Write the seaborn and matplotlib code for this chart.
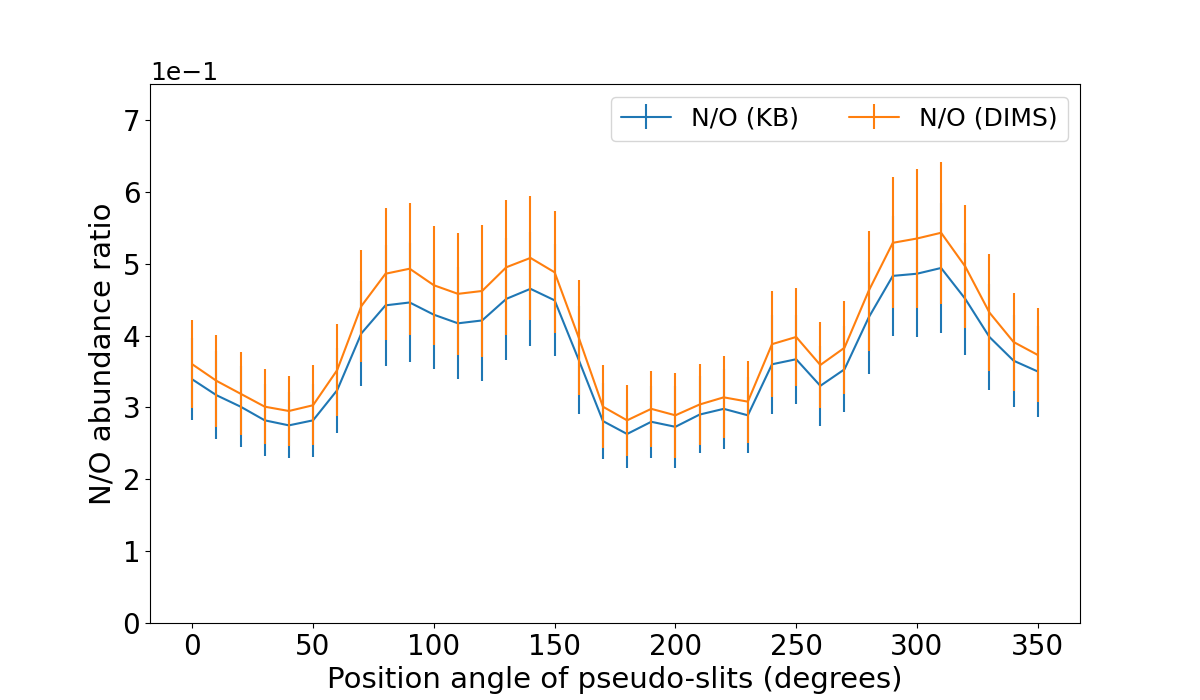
import numpy as np
import pandas as pd
import matplotlib
matplotlib.use("Agg")
import matplotlib.pyplot as plt
import seaborn as sns
from matplotlib.container import ErrorbarContainer

# position angle of the pseudo-slits (degrees)
angles = list(range(0, 360, 10))

# N/O abundance ratio, KB method
no_kb = [0.339, 0.317, 0.301, 0.282, 0.275, 0.282, 0.324, 0.403, 0.442, 0.446,
         0.429, 0.417, 0.421, 0.451, 0.465, 0.449, 0.366, 0.281, 0.263, 0.280,
         0.273, 0.290, 0.298, 0.289, 0.360, 0.367, 0.330, 0.353, 0.425, 0.483,
         0.486, 0.494, 0.451, 0.398, 0.365, 0.350]
err_kb = [0.057, 0.061, 0.056, 0.050, 0.046, 0.051, 0.059, 0.073, 0.084, 0.083,
          0.076, 0.078, 0.084, 0.085, 0.079, 0.078, 0.075, 0.053, 0.047, 0.050,
          0.057, 0.054, 0.056, 0.053, 0.069, 0.062, 0.056, 0.060, 0.078, 0.083,
          0.088, 0.090, 0.078, 0.074, 0.064, 0.063]

# N/O abundance ratio, DIMS method
no_dims = [0.360, 0.337, 0.319, 0.301, 0.295, 0.303, 0.352, 0.441, 0.486, 0.493,
           0.470, 0.458, 0.462, 0.495, 0.508, 0.488, 0.397, 0.301, 0.282, 0.298,
           0.289, 0.304, 0.314, 0.308, 0.388, 0.398, 0.359, 0.383, 0.462, 0.529,
           0.535, 0.543, 0.496, 0.432, 0.391, 0.373]
err_dims = [0.061, 0.064, 0.058, 0.052, 0.049, 0.056, 0.064, 0.078, 0.092, 0.092,
            0.083, 0.085, 0.092, 0.094, 0.086, 0.085, 0.080, 0.058, 0.049, 0.053,
            0.059, 0.056, 0.057, 0.057, 0.074, 0.068, 0.060, 0.065, 0.084, 0.091,
            0.097, 0.099, 0.086, 0.081, 0.068, 0.066]

labels = ["N/O (KB)", "N/O (DIMS)"]

df = pd.DataFrame({
    "angle": angles * 2,
    "ratio": no_kb + no_dims,
    "err": err_kb + err_dims,
    "method": [labels[0]] * len(angles) + [labels[1]] * len(angles),
})

sns.set_style("ticks", {"axes.edgecolor": "black", "text.color": "black",
                        "axes.labelcolor": "black", "xtick.color": "black",
                        "ytick.color": "black"})
colors = sns.color_palette("tab10", 2)

fig, ax = plt.subplots(figsize=(12, 7), dpi=100)
sns.lineplot(data=df, x="angle", y="ratio", hue="method", palette=colors,
             linewidth=1.5, legend=False, ax=ax)

handles = []
for i, lab in enumerate(labels):
    sub = df[df["method"] == lab]
    eb = ax.errorbar(sub["angle"], sub["ratio"], yerr=sub["err"], fmt="none",
                     ecolor=colors[i], elinewidth=1.5)
    handles.append(ErrorbarContainer((ax.lines[i], eb.lines[1], eb.lines[2]),
                                     has_xerr=False, has_yerr=True, label=lab))

ax.set_ylim(0, 0.75)
ax.ticklabel_format(axis="y", style="sci", scilimits=(0, 0))
ax.yaxis.get_offset_text().set_fontsize(18)
ax.tick_params(labelsize=20, length=3.5, width=0.8)
ax.set_xlabel("Position angle of pseudo-slits (degrees)", fontsize=21)
ax.set_ylabel("N/O abundance ratio", fontsize=21)
ax.legend(handles=handles, labels=labels, ncol=2, fontsize=18, loc="upper right")
for s in ax.spines.values():
    s.set_linewidth(0.8)

fig.savefig("out.png", dpi=100)
